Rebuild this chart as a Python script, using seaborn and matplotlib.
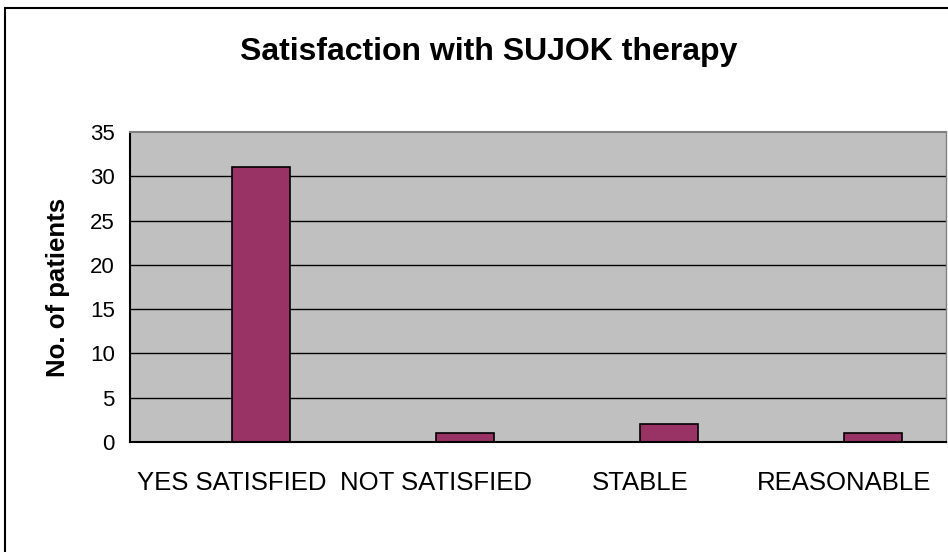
import seaborn as sns
import matplotlib.pyplot as plt
import numpy as np
import pandas as pd
from matplotlib.patches import Rectangle

# data
categories = ["YES SATISFIED", "NOT SATISFIED", "STABLE", "REASONABLE"]
patients = [31, 1, 2, 1]
# empty first series (Excel chart left a slot for it)
empty = [np.nan, np.nan, np.nan, np.nan]

df = pd.DataFrame({
    "answer": categories * 2,
    "count": empty + patients,
    "series": ["blank"] * 4 + ["patients"] * 4,
})

sns.set_style("white")
plt.rcParams["font.family"] = ["Liberation Sans", "DejaVu Sans"]
plt.rcParams["text.color"] = "black"
plt.rcParams["axes.labelcolor"] = "black"
plt.rcParams["xtick.color"] = "black"
plt.rcParams["ytick.color"] = "black"

fig = plt.figure(figsize=(9.48, 5.52), dpi=100)
ax = fig.add_axes([0.1371, 0.1993, 0.8608, 0.5616])
ax.set_facecolor("#C0C0C0")

sns.barplot(data=df, x="answer", y="count", hue="series",
            hue_order=["blank", "patients"], order=categories,
            palette={"blank": "#993366", "patients": "#993366"},
            width=0.57, edgecolor="black", linewidth=1.2,
            saturation=1, legend=False, ax=ax)

ax.set_xlim(-0.5, 3.5)
ax.set_ylim(0, 35)
ax.set_yticks(range(0, 36, 5))
for y in range(5, 35, 5):
    ax.axhline(y, color="black", lw=1, zorder=0.5)
ax.set_axisbelow(True)

# tick marks at category boundaries, labels at centres
ax.set_xticks(range(4))
ax.set_xticklabels(categories)
ax.set_xticks(np.arange(-0.5, 4, 1), minor=True)
ax.tick_params(axis="x", which="major", length=0, pad=21, labelsize=18.5)
ax.tick_params(axis="x", which="minor", length=8, width=1.5, color="black", direction="out")
ax.tick_params(axis="y", length=5, width=1.2, color="black", direction="out", labelsize=16, pad=6)

ax.set_xlabel("")
ax.set_ylabel("No. of patients", fontsize=18.5, fontweight="bold", labelpad=14)

for side in ["left", "bottom"]:
    ax.spines[side].set_color("black")
    ax.spines[side].set_linewidth(1.5)
ax.spines["top"].set_color("#808080")
ax.spines["top"].set_linewidth(1.5)
ax.spines["right"].set_color("#808080")
ax.spines["right"].set_linewidth(1)

fig.text(0.515, 0.906, "Satisfaction with SUJOK therapy", ha="center", va="center",
         fontsize=23, fontweight="bold")

# chart border
fig.patches.append(Rectangle((5 / 948, -0.1), 1.2, 1 - 8 / 552 + 0.1,
                             transform=fig.transFigure, fill=False,
                             edgecolor="black", lw=1.5))

plt.savefig("out.png", dpi=100)
